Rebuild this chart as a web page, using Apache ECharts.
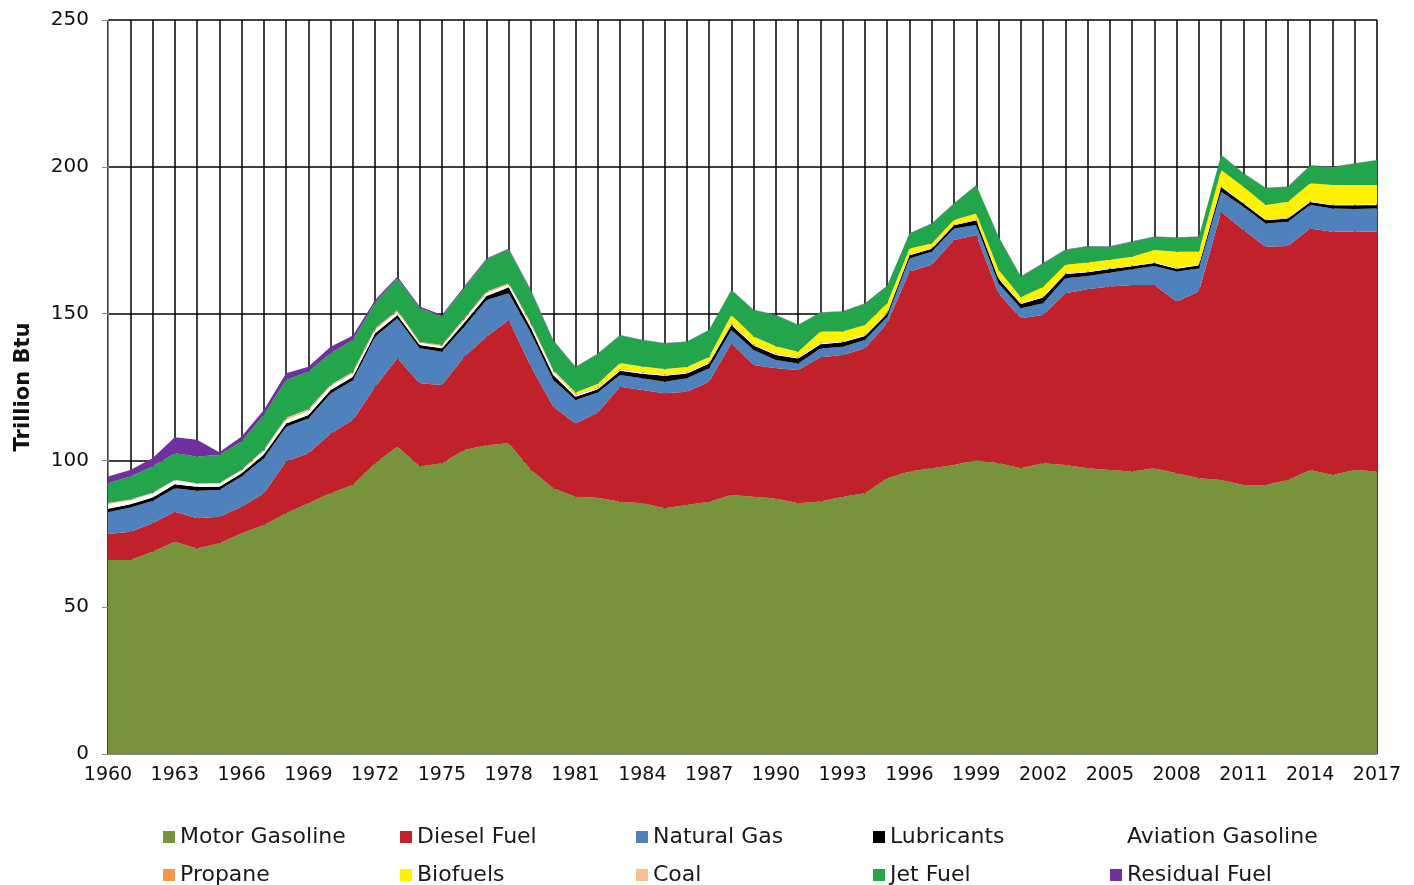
<!DOCTYPE html>
<html>
<head>
<meta charset="utf-8">
<title>Transportation energy consumption</title>
<script src="https://cdn.jsdelivr.net/npm/echarts@6/dist/echarts.min.js"></script>
<style>
    html, body {
        margin: 0;
        padding: 0;
        background: #fff;
    }

    #chart {
        width: 1414px;
        height: 885px;
    }
</style>
</head>
<body>
<div id="chart"></div>
<script>
// years on the x axis
var years = [];
for (var y = 1960; y <= 2017; y++) years.push(String(y));

var yTicks = [0, 50, 100, 150, 200, 250];

// trillion Btu, bottom layer first
var motorGasoline = [66.1, 66.1, 68.9, 72.3, 70.0, 71.8, 75.2, 78.0, 82.0, 85.4,
    88.8, 91.6, 99.0, 104.7, 97.9, 99.0, 103.5, 105.2, 105.8, 96.7,
    90.5, 87.6, 87.3, 85.9, 85.4, 83.7, 84.8, 85.9, 88.2, 87.6,
    87.0, 85.4, 86.0, 87.6, 88.8, 93.9, 96.2, 97.3, 98.4, 100.1,
    99.0, 97.3, 99.0, 98.4, 97.3, 96.7, 96.2, 97.3, 95.6, 93.9,
    93.3, 91.6, 91.6, 93.3, 96.7, 95.0, 96.7, 96.2];
var dieselFuel = [8.8, 9.6, 9.7, 10.2, 10.3, 9.0, 9.0, 10.8, 17.6, 17.0,
    20.4, 22.2, 26.1, 30.1, 28.4, 26.7, 31.8, 36.9, 42.0, 35.2,
    27.8, 25.0, 29.0, 39.2, 38.6, 39.2, 38.6, 40.9, 51.7, 44.9,
    44.4, 45.4, 49.1, 48.3, 49.4, 52.8, 68.1, 69.3, 76.7, 76.7,
    57.9, 51.1, 50.5, 58.5, 61.0, 62.5, 63.5, 62.4, 58.5, 63.6,
    91.4, 86.9, 81.2, 79.7, 82.3, 82.9, 81.2, 81.7];
var naturalGas = [7.4, 8.3, 7.6, 8.0, 9.4, 9.1, 10.3, 11.9, 11.9, 11.9,
    13.6, 13.5, 17.0, 13.6, 11.9, 11.3, 10.2, 12.5, 9.1, 11.4,
    9.1, 8.0, 6.8, 4.0, 4.0, 3.9, 4.6, 4.6, 4.5, 5.1,
    2.8, 2.2, 3.0, 2.8, 2.8, 2.2, 4.5, 4.5, 3.9, 3.4,
    3.4, 3.4, 4.0, 5.1, 4.5, 4.7, 5.4, 6.5, 10.2, 7.9,
    6.8, 7.9, 7.9, 8.3, 8.0, 7.9, 7.7, 7.9];
var lubricants = [1.2, 1.1, 1.2, 1.4, 1.3, 1.1, 1.1, 1.3, 1.1, 1.2,
    1.2, 1.2, 1.2, 1.1, 1.1, 1.2, 1.4, 1.4, 2.1, 1.7,
    1.7, 1.1, 1.1, 1.4, 1.5, 2.0, 1.6, 1.6, 1.7, 1.5,
    1.7, 1.7, 1.5, 1.5, 1.4, 1.1, 1.1, 1.0, 1.1, 1.6,
    1.6, 1.5, 2.0, 1.5, 1.3, 1.3, 1.0, 1.0, 1.0, 1.1,
    1.6, 1.1, 1.1, 1.1, 1.0, 1.1, 1.3, 1.1];
var aviationGasoline = [1.6, 1.3, 1.3, 1.3, 1.0, 1.1, 1.0, 1.3, 1.3, 1.3,
    1.3, 1.2, 1.2, 1.2, 0.8, 0.8, 1.1, 1.1, 0.9, 1.2,
    1.3, 0.6, 0.5, 0.4, 0.4, 0.3, 0.3, 0.3, 0.3, 0.3,
    0.3, 0.3, 0.3, 0.3, 0.3, 0.3, 0.2, 0.2, 0.2, 0.2,
    0.2, 0.2, 0.2, 0.2, 0.2, 0.2, 0.2, 0.2, 0.2, 0.2,
    0.2, 0.2, 0.2, 0.2, 0.2, 0.2, 0.2, 0.2];
var propane = [0.1, 0.1, 0.1, 0.1, 0.1, 0.1, 0.1, 0.2, 0.3, 0.3,
    0.3, 0.3, 0.4, 0.4, 0.3, 0.3, 0.3, 0.3, 0.3, 0.3,
    0.3, 0.2, 0.2, 0.2, 0.2, 0.2, 0.2, 0.2, 0.2, 0.2,
    0.2, 0.2, 0.2, 0.2, 0.2, 0.2, 0.1, 0.1, 0.1, 0.1,
    0.1, 0.1, 0.1, 0.1, 0.1, 0.1, 0.1, 0.1, 0.1, 0.1,
    0.1, 0.1, 0.1, 0.1, 0.1, 0.1, 0.1, 0.1];
var biofuels = [0, 0, 0, 0, 0, 0, 0, 0, 0, 0,
    0, 0, 0, 0, 0, 0, 0, 0, 0, 0,
    0, 0.5, 1.1, 2.0, 1.8, 1.7, 1.6, 1.6, 2.8, 2.5,
    2.4, 1.8, 3.8, 3.2, 3.2, 3.0, 2.0, 1.5, 1.5, 2.0,
    2.7, 2.0, 3.3, 2.8, 3.0, 2.8, 3.0, 4.2, 5.5, 4.3,
    5.5, 5.4, 4.9, 5.4, 6.1, 6.6, 6.6, 6.6];
var coal = [0.3, 0.2, 0.2, 0.1, 0.1, 0.1, 0.1, 0.1, 0.3, 0.3,
    0.2, 0.2, 0.1, 0.1, 0, 0, 0.1, 0.1, 0.1, 0.2,
    0.1, 0.1, 0.1, 0.1, 0.1, 0.1, 0.1, 0.1, 0.1, 0.1,
    0.1, 0, 0, 0, 0, 0, 0, 0, 0, 0,
    0, 0, 0, 0, 0, 0, 0, 0, 0, 0,
    0, 0, 0, 0, 0, 0, 0, 0];
var jetFuel = [6.7, 7.8, 8.9, 9.0, 9.1, 9.5, 9.6, 11.9, 12.9, 12.8,
    10.7, 10.8, 8.8, 10.8, 11.4, 9.7, 10.3, 10.9, 11.6, 11.0,
    10.0, 8.6, 10.2, 9.4, 9.0, 8.8, 8.6, 9.2, 8.5, 9.0,
    10.6, 9.1, 6.5, 6.8, 7.3, 6.0, 5.1, 6.8, 5.6, 9.6,
    11.3, 7.0, 8.0, 5.1, 5.5, 4.5, 5.1, 4.5, 4.8, 5.1,
    5.1, 4.6, 5.8, 5.1, 6.0, 6.1, 7.3, 8.5];
var residualFuel = [2.3, 2.2, 2.8, 5.5, 5.7, 1.0, 1.7, 1.7, 2.3, 1.7,
    2.2, 1.5, 0.8, 0.6, 0.6, 0.5, 0.5, 0.4, 0.3, 0.3,
    0.2, 0.2, 0.1, 0.1, 0.1, 0.1, 0.1, 0.1, 0.1, 0.1,
    0.1, 0.1, 0.1, 0.1, 0.1, 0.1, 0.1, 0.1, 0.1, 0.1,
    0.1, 0.1, 0.1, 0.1, 0.1, 0.1, 0.1, 0.1, 0.1, 0.1,
    0.1, 0.1, 0.1, 0.1, 0.1, 0.1, 0.1, 0.1];

var fuels = [
    { name: 'Motor Gasoline', data: motorGasoline, color: '#77933c' },
    { name: 'Diesel Fuel', data: dieselFuel, color: '#c0212a' },
    { name: 'Natural Gas', data: naturalGas, color: '#4f81bd' },
    { name: 'Lubricants', data: lubricants, color: '#000000' },
    { name: 'Aviation Gasoline', data: aviationGasoline, color: '#ffffff' },
    { name: 'Propane', data: propane, color: '#f79646' },
    { name: 'Biofuels', data: biofuels, color: '#fff200' },
    { name: 'Coal', data: coal, color: '#fac090' },
    { name: 'Jet Fuel', data: jetFuel, color: '#22a54b' },
    { name: 'Residual Fuel', data: residualFuel, color: '#7030a0' }
];

var font = 'DejaVu Sans';

// legend: 2 rows x 5 columns, one small legend per item so the columns line up
var legendCols = [163, 400, 636, 873, 1110];
var legendRows = [826, 864];
var legends = fuels.map(function (f, i) {
    return {
        data: [f.name],
        left: legendCols[i % 5],
        top: legendRows[Math.floor(i / 5)],
        padding: 0,
        icon: 'rect',
        itemWidth: 12,
        itemHeight: 12,
        selectedMode: false,
        textStyle: {
            fontFamily: font,
            fontSize: 22,
            color: '#1a1a1a'
        }
    }
});

var chart = echarts.init(document.getElementById('chart'));
chart.setOption({
    animation: false,
    backgroundColor: '#fff',
    legend: legends,
    grid: {
        left: 108,
        right: 37,
        top: 20,
        bottom: 131
    },
    xAxis: {
        type: 'category',
        data: years,
        boundaryGap: false,
        axisLine: { lineStyle: { color: '#888', width: 1 } },
        axisTick: { show: false },
        axisLabel: {
            interval: 2,
            margin: 12,
            color: '#111',
            fontFamily: font,
            fontSize: 19
        },
        splitLine: {
            show: true,
            interval: 0,
            lineStyle: { color: '#000', width: 1.5 }
        }
    },
    yAxis: {
        type: 'value',
        min: yTicks[0],
        max: yTicks[yTicks.length - 1],
        interval: 50,
        name: 'Trillion Btu',
        nameLocation: 'middle',
        nameGap: 74,
        nameTextStyle: {
            fontFamily: font,
            fontSize: 21,
            fontWeight: 'bold',
            color: '#111'
        },
        axisLine: { show: true, lineStyle: { color: '#888', width: 1 } },
        axisTick: { show: true, length: 6, lineStyle: { color: '#888' } },
        axisLabel: {
            margin: 19,
            color: '#111',
            fontFamily: font,
            fontSize: 20
        },
        splitLine: {
            lineStyle: { color: '#000', width: 1.5 }
        }
    },
    series: fuels.map(function (f) {
        return {
            name: f.name,
            type: 'line',
            stack: 'total',
            data: f.data,
            symbol: 'none',
            color: f.color,
            lineStyle: { width: 0 },
            areaStyle: { color: f.color, opacity: 1 }
        }
    })
});
</script>
</body>
</html>
